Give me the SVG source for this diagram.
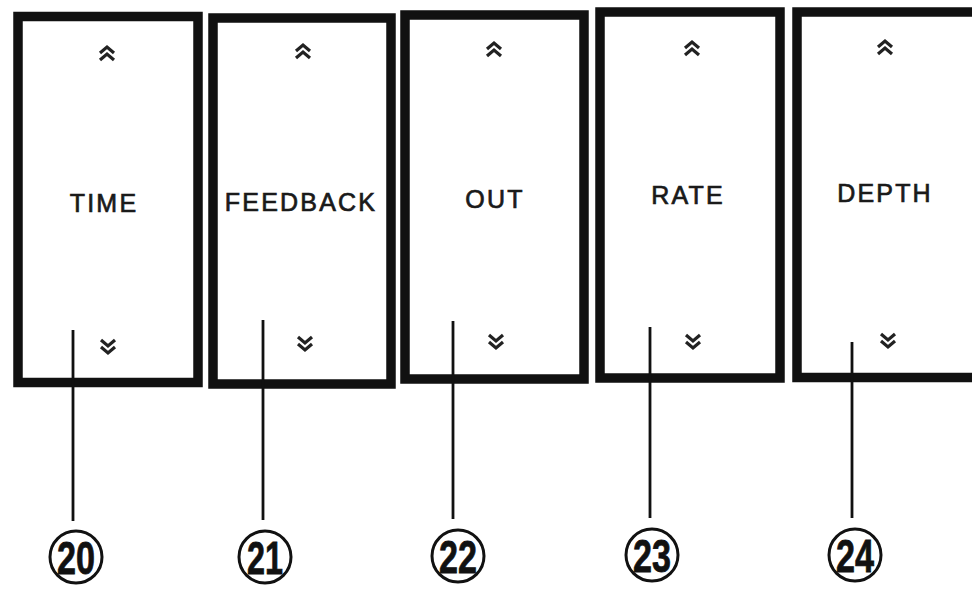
<svg xmlns="http://www.w3.org/2000/svg" width="972" height="594" viewBox="0 0 972 594">
  <style>
    .box { fill: #fff; stroke: #111; stroke-width: 9.5; }
    .lbl { font-family: "Liberation Sans", Arial, sans-serif; font-size: 25px; letter-spacing: 2.2px; fill: #1a1a1a; stroke: #1a1a1a; stroke-width: 0.7; text-anchor: middle; }
    .chev { fill: none; stroke: #222; stroke-width: 3.2; stroke-linejoin: miter; }
    .lead { stroke: #111; stroke-width: 2.8; fill: none; }
    .ring { fill: #fff; stroke: #111; stroke-width: 3; }
    .num { font-family: "Liberation Sans", Arial, sans-serif; font-weight: bold; font-size: 46px; fill: #111; stroke: #111; stroke-width: 0.8; text-anchor: middle; }
  </style>
  <defs>
    <path id="up" class="chev" d="M-7,0 L0,-6 L7,0 M-7,7 L0,1 L7,7"/>
    <path id="down" class="chev" d="M-7,-7 L0,-1 L7,-7 M-7,0 L0,6 L7,0"/>
  </defs>
  <rect width="972" height="594" fill="#fff"/>

  <g id="time">
    <rect class="box" x="18" y="16.5" width="180" height="366"/>
    <use href="#up" x="107" y="53"/>
    <text class="lbl" x="104" y="212">TIME</text>
    <use href="#down" x="108" y="347"/>
  </g>
  <g id="feedback">
    <rect class="box" x="213" y="18" width="178" height="366"/>
    <use href="#up" x="303" y="51"/>
    <text class="lbl" x="301" y="211">FEEDBACK</text>
    <use href="#down" x="305" y="344"/>
  </g>
  <g id="out">
    <rect class="box" x="405" y="15" width="179" height="364"/>
    <use href="#up" x="494" y="49"/>
    <text class="lbl" x="495" y="208">OUT</text>
    <use href="#down" x="496" y="342"/>
  </g>
  <g id="rate">
    <rect class="box" x="600" y="12" width="180" height="366"/>
    <use href="#up" x="692" y="48"/>
    <text class="lbl" x="688" y="204">RATE</text>
    <use href="#down" x="693" y="342"/>
  </g>
  <g id="depth">
    <rect class="box" x="797" y="12" width="200" height="365.5"/>
    <use href="#up" x="885" y="47"/>
    <text class="lbl" x="885" y="202">DEPTH</text>
    <use href="#down" x="888" y="341"/>
  </g>

  <g id="connectors">
    <line class="lead" x1="73" y1="330" x2="73" y2="521"/>
    <line class="lead" x1="263" y1="320" x2="263" y2="520"/>
    <line class="lead" x1="453" y1="321" x2="453" y2="519"/>
    <line class="lead" x1="650" y1="327" x2="650" y2="518"/>
    <line class="lead" x1="852" y1="342" x2="852" y2="518"/>
  </g>

  <g id="n20">
    <circle class="ring" cx="76" cy="557" r="26"/>
    <text class="num" x="76" y="574" textLength="38" lengthAdjust="spacingAndGlyphs">20</text>
  </g>
  <g id="n21">
    <circle class="ring" cx="265" cy="557" r="26"/>
    <text class="num" x="265" y="574" textLength="36" lengthAdjust="spacingAndGlyphs">21</text>
  </g>
  <g id="n22">
    <circle class="ring" cx="458" cy="556" r="26"/>
    <text class="num" x="458" y="573" textLength="38" lengthAdjust="spacingAndGlyphs">22</text>
  </g>
  <g id="n23">
    <circle class="ring" cx="652" cy="555" r="26"/>
    <text class="num" x="652" y="572" textLength="38" lengthAdjust="spacingAndGlyphs">23</text>
  </g>
  <g id="n24">
    <circle class="ring" cx="855" cy="555" r="26"/>
    <text class="num" x="855" y="572" textLength="38" lengthAdjust="spacingAndGlyphs">24</text>
  </g>
</svg>
